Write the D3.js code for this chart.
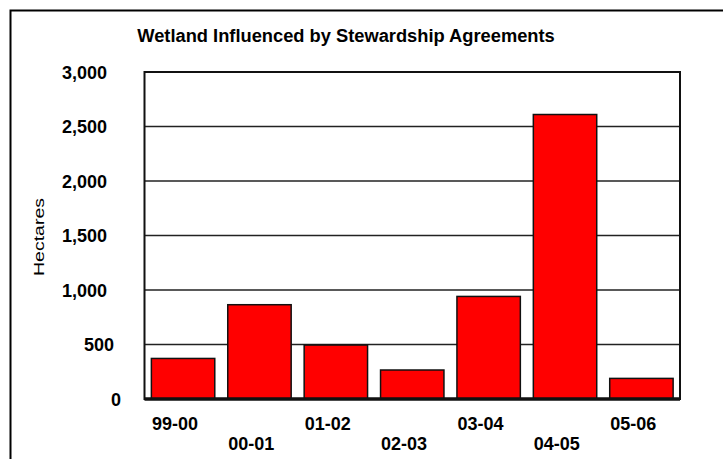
<!DOCTYPE html>
<html><head><meta charset="utf-8">
<script src="https://cdn.jsdelivr.net/npm/d3@7"></script>
<style>body{margin:0;background:#fff}svg{display:block}text{font-family:Arial,"Liberation Sans",sans-serif}</style>
</head><body>
<svg id="c" width="723" height="459"></svg>
<script>
const categories = ["99-00","00-01","01-02","02-03","03-04","04-05","05-06"];
const values = [372, 865, 495, 266, 941, 2610, 189];
const yTicks = [0, 500, 1000, 1500, 2000, 2500, 3000];
const title = "Wetland Influenced by Stewardship Agreements";
const yLabel = "Hectares";

const svg = d3.select("#c");
const FONT = "Arial, 'Liberation Sans', sans-serif";
const m = {l:144.5, r:680, t:72, b:399};
// outer frame
svg.append("rect").attr("x",10.5).attr("y",10.5).attr("width",720).attr("height",460)
  .attr("fill","none").attr("stroke","#000").attr("stroke-width",2);

const x = d3.scaleBand().domain(categories).range([m.l, m.r]).paddingInner(0.17).paddingOuter(0.09);
const y = d3.scaleLinear().domain([0,3000]).range([m.b, m.t]);

// gridlines
svg.append("g").selectAll("line").data(yTicks.filter(d=>d>0&&d<3000)).join("line")
  .attr("x1",m.l).attr("x2",m.r).attr("y1",d=>y(d)).attr("y2",d=>y(d))
  .attr("stroke","#222").attr("stroke-width",1.6);

// bars
svg.append("g").selectAll("rect").data(values).join("rect")
  .attr("x",(d,i)=>x(categories[i])).attr("width",x.bandwidth())
  .attr("y",d=>y(d)).attr("height",d=>y(0)-y(d))
  .attr("fill","#ff0000").attr("stroke","#111").attr("stroke-width",1.5);

// frame
svg.append("rect").attr("x",m.l).attr("y",m.t).attr("width",m.r-m.l).attr("height",m.b-m.t)
  .attr("fill","none").attr("stroke","#111").attr("stroke-width",2);
svg.append("line").attr("x1",m.l).attr("x2",m.r).attr("y1",m.b).attr("y2",m.b)
  .attr("stroke","#111").attr("stroke-width",3.5);

// y axis
const fmt = d3.format(",");
const yAxis = d3.axisLeft(y).tickValues(yTicks).tickSize(0).tickPadding(0).tickFormat(fmt);
const ga = svg.append("g").attr("transform",`translate(${m.l},0)`).call(yAxis);
ga.select(".domain").remove();
ga.selectAll("text").attr("font-size",18).attr("font-weight","bold").attr("fill","#000")
  .attr("font-family",FONT).attr("dy","0.36em")
  .attr("x",d=> -(m.l-107) + (5-fmt(d).length)*3.5);

// x axis labels (staggered, left-aligned to bars)
const xAxis = d3.axisBottom(x).tickSize(0).tickPadding(0);
const gx = svg.append("g").attr("transform",`translate(0,${m.b})`).call(xAxis);
gx.select(".domain").remove();
gx.selectAll("text").attr("font-size",18).attr("font-weight","bold").attr("fill","#000")
  .attr("font-family",FONT).attr("text-anchor","start")
  .attr("dy",null).attr("x",-x.bandwidth()/2 + 0.5).attr("y",(d,i)=> i%2===0 ? 31 : 50.5);

// title
svg.append("text").attr("x",346).attr("y",41.5).attr("text-anchor","middle")
  .attr("font-size",18.3).attr("font-weight","bold").attr("font-family",FONT).text(title);
// y label
svg.append("text").attr("transform","translate(43.5,237) rotate(-90)").attr("text-anchor","middle")
  .attr("font-size",14).attr("font-family",FONT)
  .attr("textLength",78).attr("lengthAdjust","spacingAndGlyphs").text(yLabel);
</script>
</body></html>
